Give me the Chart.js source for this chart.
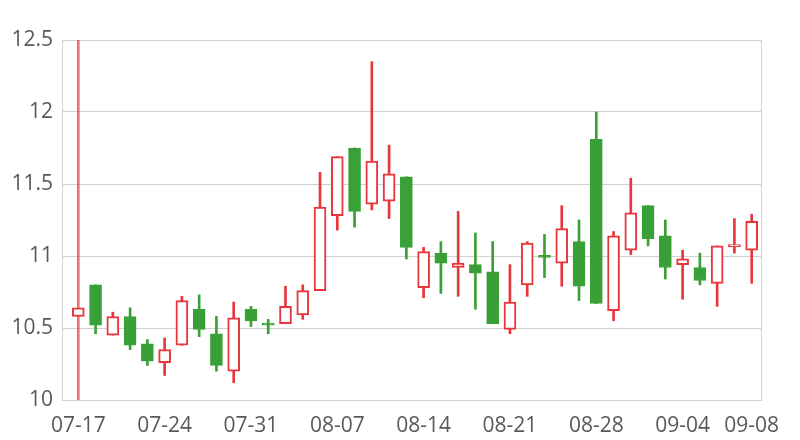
<!DOCTYPE html>
<html lang="en">
<head>
  <meta charset="UTF-8" />
  <title>Daily K-line</title>
  <script src="https://cdn.jsdelivr.net/npm/chart.js"></script>
  <style>
    html, body { margin: 0; padding: 0; background: #fff; }
    #wrap { width: 800px; height: 440px; }
  </style>
</head>
<body>
  <div id="wrap"><canvas id="kChart"></canvas></div>

  <script>
    // trading days
    const dates = [
      '07-17', '07-18', '07-19', '07-20', '07-21',
      '07-24', '07-25', '07-26', '07-27', '07-28',
      '07-31', '08-01', '08-02', '08-03', '08-04',
      '08-07', '08-08', '08-09', '08-10', '08-11',
      '08-14', '08-15', '08-16', '08-17', '08-18',
      '08-21', '08-22', '08-23', '08-24', '08-25',
      '08-28', '08-29', '08-30', '08-31', '09-01',
      '09-04', '09-05', '09-06', '09-07', '09-08'
    ];
    const opens = [
      10.58, 10.80, 10.45, 10.58, 10.39, 10.26, 10.38, 10.63, 10.46, 10.20,
      10.63, 10.525, 10.53, 10.59, 10.76, 11.28, 11.75, 11.36, 11.38, 11.55,
      10.78, 11.02, 10.92, 10.94, 10.89, 10.49, 10.80, 10.995, 10.95, 11.10,
      11.81, 10.62, 11.04, 11.35, 11.14, 10.94, 10.92, 10.81, 11.065, 11.04
    ];
    const closes = [
      10.64, 10.52, 10.58, 10.38, 10.27, 10.35, 10.69, 10.49, 10.24, 10.57,
      10.55, 10.52, 10.65, 10.76, 11.34, 11.69, 11.31, 11.66, 11.57, 11.06,
      11.03, 10.95, 10.95, 10.88, 10.53, 10.68, 11.09, 10.99, 11.19, 10.79,
      10.67, 11.14, 11.30, 11.12, 10.92, 10.98, 10.83, 11.07, 11.07, 11.24
    ];
    const highs = [
      12.60, 10.80, 10.61, 10.64, 10.42, 10.43, 10.72, 10.73, 10.58, 10.68,
      10.65, 10.56, 10.79, 10.80, 11.58, 11.69, 11.75, 12.35, 11.77, 11.55,
      11.06, 11.10, 11.31, 11.16, 11.10, 10.94, 11.10, 11.15, 11.35, 11.25,
      12.00, 11.17, 11.54, 11.35, 11.25, 11.04, 11.02, 11.07, 11.26, 11.29
    ];
    const lows = [
      9.90, 10.46, 10.45, 10.35, 10.24, 10.17, 10.38, 10.44, 10.20, 10.12,
      10.51, 10.46, 10.53, 10.56, 10.76, 11.18, 11.20, 11.32, 11.26, 10.98,
      10.71, 10.74, 10.72, 10.63, 10.53, 10.46, 10.72, 10.85, 10.79, 10.69,
      10.67, 10.55, 11.01, 11.07, 10.84, 10.70, 10.80, 10.65, 11.02, 10.81
    ];
    const xTickIdx = [0, 5, 10, 15, 20, 25, 30, 35, 39];
    const yTicks = [10, 10.5, 11, 11.5, 12, 12.5];

    const RED = '#e8363c';
    const GREEN = '#38a036';
    const isUp = opens.map((o, i) => closes[i] >= o);

    const bodyData = dates.map((d, i) => ({ x: i, y: [opens[i], closes[i]] }));
    const wickData = dates.map((d, i) => ({ x: i, y: [lows[i], highs[i]] }));

    Chart.defaults.font.family = '"Open Sans", sans-serif';
    Chart.defaults.font.size = 21;
    Chart.defaults.color = '#595959';

    new Chart(document.getElementById('kChart'), {
      type: 'bar',
      data: {
        datasets: [
          {
            label: 'body',
            data: bodyData,
            barThickness: 12,
            minBarLength: 2,
            grouped: false,
            borderSkipped: false,
            backgroundColor: isUp.map(u => u ? '#ffffff' : GREEN),
            borderColor: isUp.map(u => u ? RED : GREEN),
            borderWidth: isUp.map(u => u ? 2 : 1)
          },
          {
            label: 'wick',
            data: wickData,
            barThickness: 2,
            grouped: false,
            borderSkipped: false,
            borderWidth: 0,
            backgroundColor: dates.map((d, i) =>
              i === 0 ? 'rgba(232,54,60,0.7)' : (isUp[i] ? RED : GREEN))
          }
        ]
      },
      options: {
        responsive: true,
        maintainAspectRatio: false,
        animation: false,
        layout: { padding: { left: 0, right: 39, top: 40, bottom: 0 } },
        plugins: {
          legend: { display: false },
          tooltip: { enabled: false }
        },
        scales: {
          x: {
            type: 'linear',
            min: -0.944,
            max: 39.54,
            offset: false,
            afterBuildTicks: (scale) => {
              scale.ticks = xTickIdx.map(v => ({ value: v }));
            },
            afterFit: (scale) => {
              scale.paddingLeft = 0;
              scale.paddingRight = 0;
              scale.height = 40;
            },
            grid: { display: false, drawTicks: false },
            border: { display: true, color: '#d0d0d0', width: 1 },
            ticks: {
              padding: 13,
              autoSkip: false,
              maxRotation: 0,
              callback: (v) => dates[v]
            }
          },
          y: {
            min: 10,
            max: 12.5,
            afterBuildTicks: (scale) => {
              scale.ticks = yTicks.map(v => ({ value: v }));
            },
            afterFit: (scale) => {
              scale.width = 62;
              scale.paddingTop = 0;
              scale.paddingBottom = 0;
            },
            grid: { color: '#d0d0d0', lineWidth: 1, drawTicks: false },
            border: { display: true, color: '#d0d0d0', width: 1 },
            ticks: { padding: 9, callback: (v) => String(v) }
          },
          yRight: {
            position: 'right',
            min: 10,
            max: 12.5,
            afterFit: (scale) => { scale.width = 0; },
            grid: { display: false, drawTicks: false },
            border: { display: true, color: '#d0d0d0', width: 1 },
            ticks: { display: false }
          }
        }
      }
    });
  </script>
</body>
</html>
